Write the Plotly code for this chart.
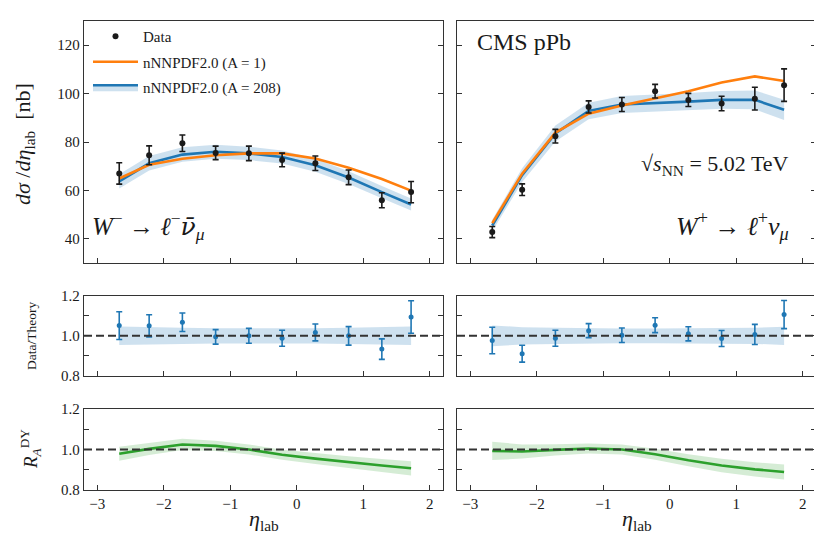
import plotly.graph_objects as go

# ---------------- data ----------------
eta = [-2.67, -2.22, -1.72, -1.22, -0.72, -0.22, 0.28, 0.78, 1.28, 1.72]

# W- panel (left)
wm_data = [67.0, 74.5, 79.5, 75.5, 75.3, 72.6, 71.2, 65.4, 55.9, 59.3]
wm_err = [4.4, 3.9, 3.4, 2.8, 3.0, 2.8, 3.0, 3.0, 3.1, 4.4]
wm_a1 = [64.9, 70.6, 73.1, 74.5, 75.3, 75.3, 73.2, 69.4, 64.7, 59.9]
wm_a208 = [63.7, 71.2, 74.8, 76.0, 75.3, 73.8, 70.4, 65.3, 59.3, 54.2]
wm_rel = [0.046, 0.042, 0.040, 0.038, 0.037, 0.037, 0.038, 0.040, 0.043, 0.046]
wm_ratio = [1.051, 1.050, 1.068, 0.995, 1.000, 0.988, 1.017, 1.000, 0.934, 1.094]
wm_ratio_err = [0.069, 0.055, 0.046, 0.036, 0.037, 0.040, 0.042, 0.046, 0.051, 0.081]
wm_ra = [0.979, 1.003, 1.025, 1.018, 1.000, 0.974, 0.955, 0.937, 0.921, 0.907]
wm_ra_err = [0.035, 0.030, 0.028, 0.025, 0.025, 0.025, 0.027, 0.030, 0.032, 0.035]

# W+ panel (right)
wp_data = [42.8, 60.3, 82.4, 94.5, 95.5, 101.0, 97.4, 95.9, 97.9, 103.5]
wp_err = [2.3, 2.4, 2.8, 2.5, 2.9, 2.8, 2.7, 3.0, 4.7, 6.7]
wp_a1 = [46.5, 66.9, 83.9, 91.7, 95.1, 98.0, 101.0, 104.6, 107.1, 105.2]
wp_a208 = [45.5, 66.3, 83.5, 92.8, 95.5, 96.0, 96.7, 97.4, 97.4, 93.3]
wp_rel = [0.052, 0.043, 0.040, 0.037, 0.037, 0.037, 0.037, 0.038, 0.040, 0.045]
wp_ratio = [0.977, 0.911, 0.988, 1.026, 1.003, 1.053, 1.010, 0.987, 1.007, 1.106]
wp_ratio_err = [0.066, 0.042, 0.040, 0.035, 0.036, 0.037, 0.035, 0.040, 0.050, 0.070]
wp_ra = [0.993, 0.990, 0.998, 1.005, 1.000, 0.977, 0.947, 0.921, 0.902, 0.889]
wp_ra_err = [0.045, 0.035, 0.028, 0.025, 0.025, 0.027, 0.030, 0.033, 0.035, 0.037]

x_ticks = [-3, -2, -1, 0, 1, 2]
top_ticks = [40, 60, 80, 100, 120]
ratio_ticks = [0.8, 0.9, 1.0, 1.1, 1.2]
ratio_ticktext = ["0.8", "", "1.0", "", "1.2"]

# ---------------- style ----------------
FONT = "Liberation Serif"
BLACK = "#1a1a1a"
ORANGE = "#ff7f0e"
BLUE = "#1f77b4"
GREEN = "#2ca02c"
BLUE_BAND = "rgba(31,119,180,0.22)"
GREEN_BAND = "rgba(44,160,44,0.2)"
FRAME = "#333333"

fig = go.Figure()


def bounds(center, half_rel=None, half_abs=None):
    if half_rel is not None:
        up = [c * (1 + r) for c, r in zip(center, half_rel)]
        lo = [c * (1 - r) for c, r in zip(center, half_rel)]
    else:
        up = [c + h for c, h in zip(center, half_abs)]
        lo = [c - h for c, h in zip(center, half_abs)]
    return up, lo


def band_line(xa, ya, center, up, lo, fillcolor, linecolor, name=None, legend=False,
              rank=None, group=None):
    # upper edge (invisible)
    fig.add_trace(go.Scatter(x=eta, y=up, mode="lines", line=dict(width=0),
                             showlegend=False, hoverinfo="skip", xaxis=xa, yaxis=ya))
    # central line filled down from the upper edge
    kw = dict(mode="lines", fill="tonexty", fillcolor=fillcolor,
              showlegend=legend, xaxis=xa, yaxis=ya)
    if linecolor is None:
        kw["line"] = dict(width=0)
        kw["hoverinfo"] = "skip"
    else:
        kw["line"] = dict(color=linecolor, width=2.6)
    if name:
        kw["name"] = name
    if rank:
        kw["legendrank"] = rank
    if group:
        kw["legendgroup"] = group
    fig.add_trace(go.Scatter(x=eta, y=center, **kw))
    # lower edge filled up to central line
    fig.add_trace(go.Scatter(x=eta, y=lo, mode="lines", line=dict(width=0),
                             fill="tonexty", fillcolor=fillcolor, showlegend=False,
                             hoverinfo="skip", xaxis=xa, yaxis=ya))


def top_panel(xa, ya, data, err, a1, a208, rel, legend):
    up, lo = bounds(a208, half_rel=rel)
    band_line(xa, ya, a208, up, lo, BLUE_BAND, BLUE, name="nNNPDF2.0 (A = 208)",
              legend=legend, rank=3, group="g3")
    fig.add_trace(go.Scatter(x=eta, y=a1, mode="lines", line=dict(color=ORANGE, width=2.6),
                             name="nNNPDF2.0 (A = 1)", showlegend=legend, legendrank=2,
                             legendgroup="g2", xaxis=xa, yaxis=ya))
    fig.add_trace(go.Scatter(x=eta, y=data, mode="markers",
                             marker=dict(color=BLACK, size=6),
                             error_y=dict(type="data", array=err, color=BLACK,
                                          thickness=1.6, width=3),
                             name="Data", showlegend=legend, legendrank=1,
                             legendgroup="g1", xaxis=xa, yaxis=ya))


def ratio_panel(xa, ya, ratio, rerr, rel):
    ones = [1.0] * len(eta)
    up, lo = bounds(ones, half_abs=rel)
    band_line(xa, ya, ones, up, lo, BLUE_BAND, None)
    fig.add_trace(go.Scatter(x=eta, y=ratio, mode="markers",
                             marker=dict(color=BLUE, size=5),
                             error_y=dict(type="data", array=rerr, color=BLUE,
                                          thickness=1.6, width=3),
                             showlegend=False, xaxis=xa, yaxis=ya))


def ra_panel(xa, ya, ra, raerr):
    up, lo = bounds(ra, half_abs=raerr)
    band_line(xa, ya, ra, up, lo, GREEN_BAND, GREEN)


top_panel("x", "y", wm_data, wm_err, wm_a1, wm_a208, wm_rel, True)
top_panel("x2", "y2", wp_data, wp_err, wp_a1, wp_a208, wp_rel, False)
ratio_panel("x3", "y3", wm_ratio, wm_ratio_err, wm_rel)
ratio_panel("x4", "y4", wp_ratio, wp_ratio_err, wp_rel)
ra_panel("x5", "y5", wm_ra, wm_ra_err)
ra_panel("x6", "y6", wp_ra, wp_ra_err)

# dashed reference lines at 1
for i in [3, 4, 5, 6]:
    fig.add_shape(type="line", xref=f"x{i} domain", yref=f"y{i}", x0=0, x1=1, y0=1, y1=1,
                  line=dict(color="#333333", width=2, dash="8px,4px"), layer="above")

# ---------------- axes ----------------
W, H = 822, 548
ML, MR, MT, MB = 76, 14, 13, 66
PW, PH = W - ML - MR, H - MT - MB


def xd(a, b):
    return [(a - ML) / PW, (b - ML) / PW]


def yd(top, bot):
    return [(H - MB - bot) / PH, (H - MB - top) / PH]


cols = [xd(76, 435), xd(449, 808)]
rows = [yd(13, 255), yd(287.7, 368), yd(401, 482)]

tickfont = dict(family=FONT, size=15, color=BLACK)
layout_axes = {}
idx = 0
for r in range(3):
    for c in range(2):
        idx += 1
        xn = "xaxis" if idx == 1 else f"xaxis{idx}"
        yn = "yaxis" if idx == 1 else f"yaxis{idx}"
        xa = dict(domain=cols[c], range=[-3.2, 2.2], anchor=f"y{'' if idx == 1 else idx}",
                  tickvals=x_ticks, ticks="inside", ticklen=5, tickwidth=1.2,
                  tickcolor=FRAME, showline=True, linecolor=FRAME, linewidth=1.3,
                  mirror=True, showgrid=False, zeroline=False,
                  showticklabels=(r == 2), tickfont=tickfont)
        if r == 0:
            ya = dict(range=[30, 130], tickvals=top_ticks)
        else:
            ya = dict(range=[0.8, 1.2], tickvals=ratio_ticks, ticktext=ratio_ticktext)
        ya.update(domain=rows[r], anchor=f"x{'' if idx == 1 else idx}",
                  ticks="inside", ticklen=5, tickwidth=1.2, tickcolor=FRAME,
                  showline=True, linecolor=FRAME, linewidth=1.3, mirror="ticks",
                  showgrid=False, zeroline=False, showticklabels=(c == 0),
                  tickfont=tickfont)
        layout_axes[xn] = xa
        layout_axes[yn] = ya

fig.update_layout(**layout_axes)


def px_x(p):
    return (p - ML) / PW


def px_y(p):
    return (H - MB - p) / PH


NUBAR = "<span style=\"font-family:'DejaVu Serif'\">ν̄</span>"

ann = [
    dict(text="<i>dσ</i> /<i>dη</i><sub>lab</sub>  [nb]", x=px_x(16), y=px_y(136),
         textangle=-90, font=dict(size=22)),
    dict(text="Data/Theory", x=px_x(23), y=px_y(328), textangle=-90, font=dict(size=13.5)),
    dict(text="<i>R</i><sub><i>A</i></sub><sup>DY</sup>", x=px_x(22), y=px_y(441),
         textangle=-90, font=dict(size=19)),
    dict(text="<i>η</i><sub>lab</sub>", x=px_x(256), y=px_y(512), font=dict(size=22)),
    dict(text="<i>η</i><sub>lab</sub>", x=px_x(629), y=px_y(512), font=dict(size=22)),
    dict(text="CMS pPb", x=px_x(467), y=px_y(34), xanchor="left", font=dict(size=24)),
    dict(text="√<i>s</i><sub>NN</sub> = 5.02 TeV", x=px_x(783), y=px_y(157),
         xanchor="right", font=dict(size=22)),
    dict(text="<i>W</i><sup>−</sup> → <i>ℓ</i><sup>−</sup><i>" + NUBAR + "</i><sub><i>μ</i></sub>",
         x=px_x(82), y=px_y(218), xanchor="left", font=dict(size=25)),
    dict(text="<i>W</i><sup>+</sup> → <i>ℓ</i><sup>+</sup><i>ν</i><sub><i>μ</i></sub>",
         x=px_x(783), y=px_y(218), xanchor="right", font=dict(size=26)),
]
for a in ann:
    a.update(xref="paper", yref="paper", showarrow=False)
    if "xanchor" not in a:
        a["xanchor"] = "center"
    a["yanchor"] = "middle"
    a["font"].update(family=FONT, color=BLACK)

fig.update_layout(
    width=W, height=H,
    margin=dict(l=ML, r=MR, t=MT, b=MB, autoexpand=False),
    paper_bgcolor="white", plot_bgcolor="white",
    font=dict(family=FONT, color=BLACK),
    annotations=ann,
    legend=dict(x=px_x(80), y=px_y(12), xanchor="left", yanchor="top",
                bgcolor="rgba(0,0,0,0)", font=dict(family=FONT, size=15, color=BLACK),
                itemwidth=45, tracegroupgap=3, traceorder="grouped"),
)

fig.write_html("out.html")
